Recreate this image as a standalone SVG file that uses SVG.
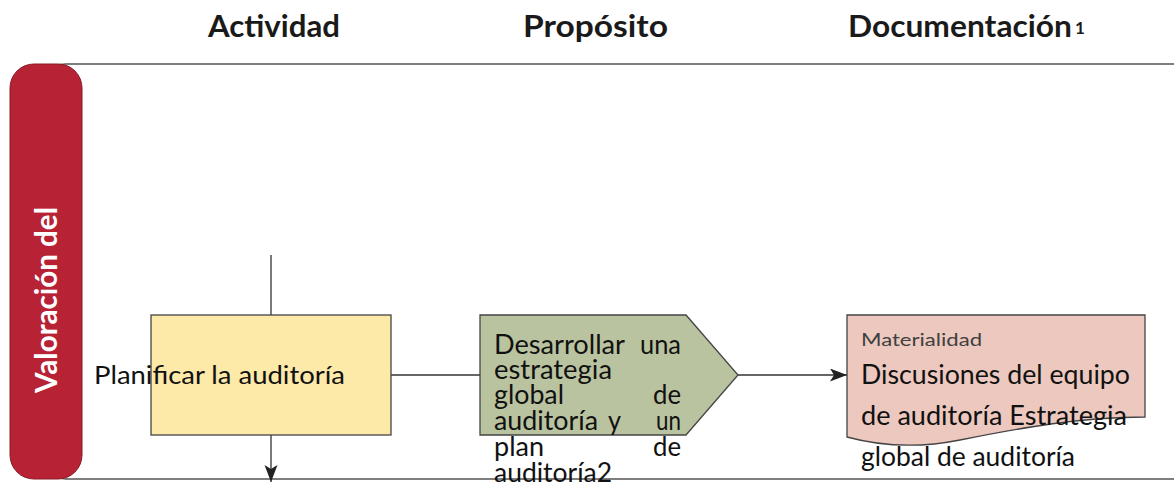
<svg xmlns="http://www.w3.org/2000/svg" width="1174" height="486" viewBox="0 0 1174 486">
<defs>
<marker id="arr" markerUnits="userSpaceOnUse" markerWidth="18" markerHeight="14" refX="17" refY="6.5" orient="auto">
<path d="M0,0 L17,6.5 L0,13 L4,6.5 z" fill="#222"/>
</marker>
<style>
.hdr{font-family:Lato,"Open Sans","Liberation Sans",sans-serif;font-weight:bold;font-size:30px;fill:#1a1a1a}
.t{font-family:Lato,"Open Sans","Liberation Sans",sans-serif;font-size:26px;fill:#111}
.d{font-family:Lato,"Open Sans","Liberation Sans",sans-serif;font-size:26px;fill:#111}
.line{stroke:#333;stroke-width:1.3;fill:none}
.box{stroke:#444;stroke-width:1.3}
</style>
</defs>
<rect width="1174" height="486" fill="#fff"/>
<g id="headers">
<text class="hdr" x="208" y="37" textLength="132" lengthAdjust="spacingAndGlyphs">Actividad</text>
<text class="hdr" x="523" y="37" textLength="145" lengthAdjust="spacingAndGlyphs">Propósito</text>
<text class="hdr" x="848" y="37" textLength="224" lengthAdjust="spacingAndGlyphs">Documentación</text>
<text class="hdr" x="1075" y="34" style="font-size:17px">1</text>
</g>
<g id="lane">
<rect x="40" y="64" width="1180" height="415" rx="26" fill="none" stroke="#555" stroke-width="1.3"/>
<rect x="10" y="64" width="72" height="415" rx="24" fill="#B72235" stroke="#8a1a28" stroke-width="1"/>
<text x="0" y="0" transform="translate(57,300) rotate(-90)" text-anchor="middle" style="font-family:Lato,'Open Sans','Liberation Sans',sans-serif;font-weight:bold;font-size:30px;fill:#fff" textLength="186" lengthAdjust="spacingAndGlyphs">Valoración del</text>
</g>
<g id="connectors">
<line class="line" x1="271" y1="255" x2="271" y2="315"/>
<line class="line" x1="271" y1="435" x2="271" y2="482" marker-end="url(#arr)"/>
<line class="line" x1="391" y1="375" x2="480" y2="375"/>
<line class="line" x1="738" y1="375" x2="847" y2="375" marker-end="url(#arr)"/>
</g>
<g id="node-planificar">
<rect class="box" x="151" y="315" width="240" height="120" fill="#FDE9A8"/>
<text class="t" x="94" y="384" style="font-size:25px" textLength="251" lengthAdjust="spacingAndGlyphs">Planificar la auditoría</text>
</g>
<g id="node-proposito">
<path class="box" d="M480,315 H686 L738,375 L686,435 H480 Z" fill="#B9C3A0"/>
<text class="t" x="494" y="354" textLength="131" lengthAdjust="spacingAndGlyphs">Desarrollar</text>
<text class="t" x="640" y="354" textLength="41" lengthAdjust="spacingAndGlyphs">una</text>
<text class="t" x="494" y="379" textLength="118" lengthAdjust="spacingAndGlyphs">estrategia</text>
<text class="t" x="494" y="404" textLength="70" lengthAdjust="spacingAndGlyphs">global</text>
<text class="t" x="653" y="404" textLength="28" lengthAdjust="spacingAndGlyphs">de</text>
<text class="t" x="494" y="430" textLength="104" lengthAdjust="spacingAndGlyphs">auditoría</text>
<text class="t" x="608" y="430" textLength="13" lengthAdjust="spacingAndGlyphs">y</text>
<text class="t" x="656" y="430" textLength="25" lengthAdjust="spacingAndGlyphs">un</text>
<text class="t" x="494" y="456" textLength="50" lengthAdjust="spacingAndGlyphs">plan</text>
<text class="t" x="653" y="456" textLength="28" lengthAdjust="spacingAndGlyphs">de</text>
<text class="t" x="494" y="482" textLength="118" lengthAdjust="spacingAndGlyphs">auditoría2</text>
</g>
<g id="node-documentacion">
<path class="box" d="M847,315 H1145 V417 C1080,417 1020,428 960,440 C920,448 880,446 847,437 Z" fill="#ECC8BF"/>
<text x="861" y="346" style="font-family:Lato,'Open Sans','Liberation Sans',sans-serif;font-size:18px;fill:#404040" textLength="121" lengthAdjust="spacingAndGlyphs">Materialidad</text>
<text class="d" x="861" y="384" textLength="269" lengthAdjust="spacingAndGlyphs">Discusiones del equipo</text>
<text class="d" x="861" y="425" textLength="266" lengthAdjust="spacingAndGlyphs">de auditoría Estrategia</text>
<text class="d" x="861" y="466" textLength="214" lengthAdjust="spacingAndGlyphs">global de auditoría</text>
</g>
</svg>
